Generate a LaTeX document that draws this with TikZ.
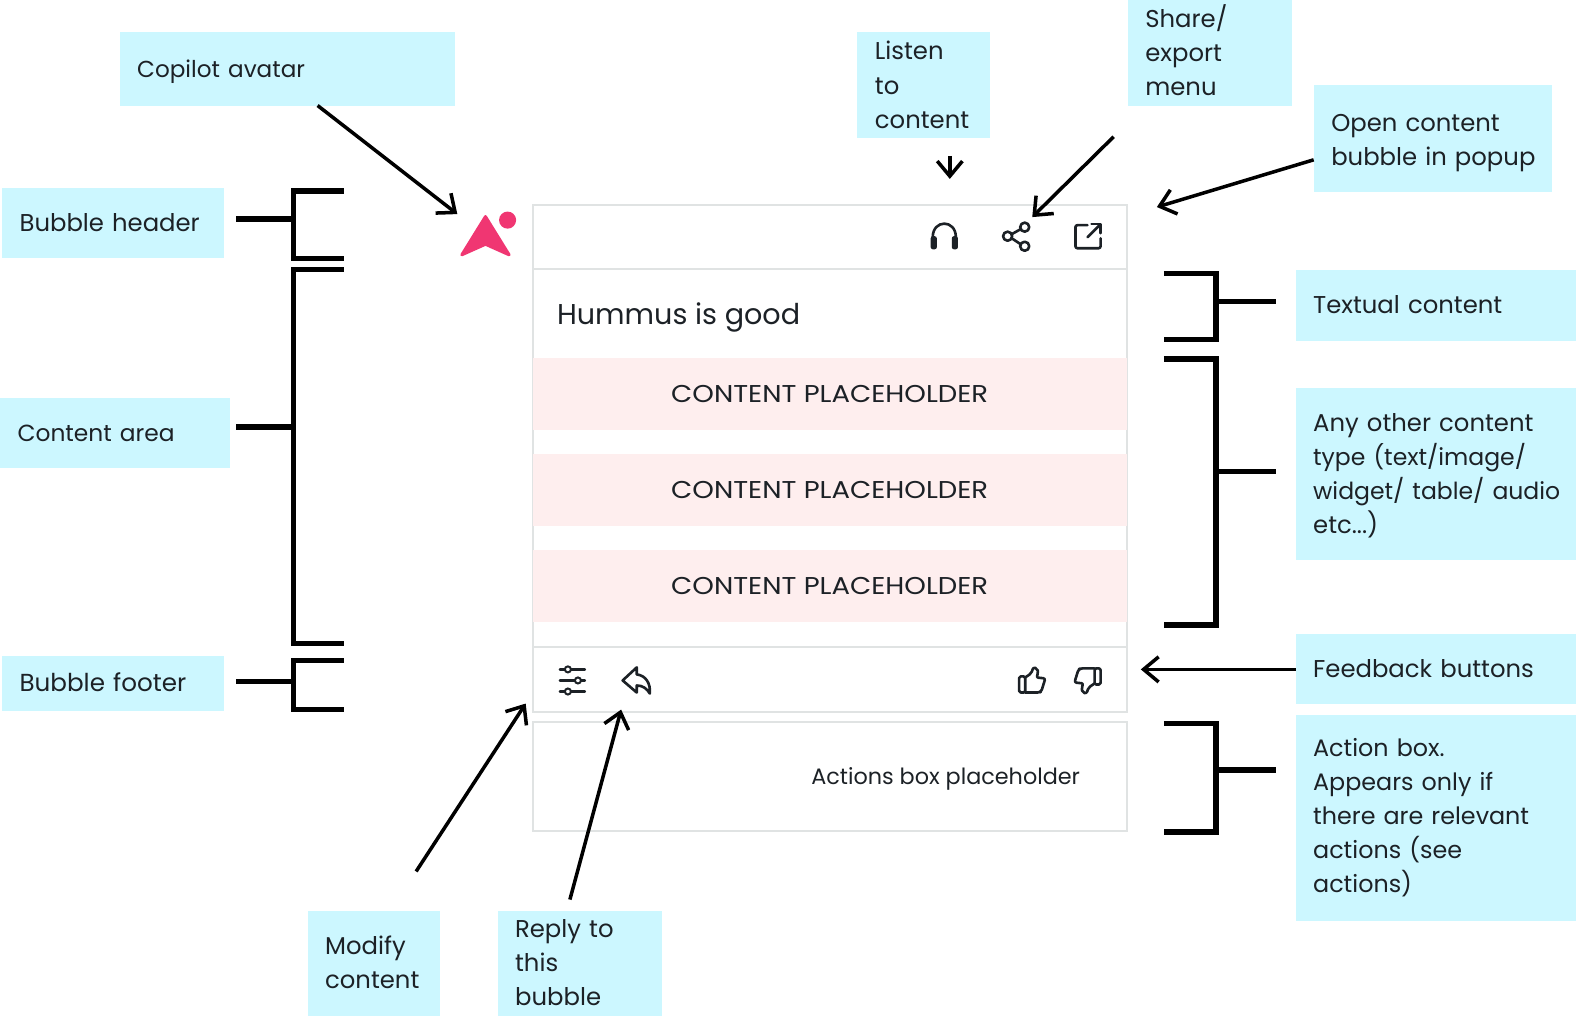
\documentclass[tikz,border=0pt]{standalone}
\usepackage{fontspec}
\setmainfont{Poppins}
\newfontfamily\capsfont[FakeStretch=1.13]{Poppins}
\usetikzlibrary{arrows.meta}
\definecolor{lab}{HTML}{CCF7FF}
\definecolor{pinkband}{HTML}{FEEEEE}
\definecolor{frameline}{HTML}{E0E3E3}
\definecolor{ink}{HTML}{1C2126}
\definecolor{brand}{HTML}{F03672}
\tikzset{
 box/.style={inner sep=0pt,align=left,text=ink,font=\fontsize{24.2}{34}\selectfont},
 frame/.style={draw=frameline,line width=2pt},
 band/.style={fill=pinkband,inner sep=0pt,text=ink,font=\capsfont\fontsize{24.2}{34}\selectfont},
 arr/.style={draw=black,line width=3.5pt,-{Straight Barb[length=15pt,width=25pt,line width=3.5pt]}},
 brk/.style={draw=black,line width=5.5pt,line cap=butt,line join=miter},
 icon/.style={draw=ink,line width=2.6pt,line cap=round,line join=round},
}
% \lab[vertical text shift]{name}{x1}{y1}{x2}{y2}{text}
\newcommand\lab[7][0]{%
 \pgfmathsetmacro\tw{#5-#3-34}%
 \pgfmathsetmacro\cx{(#3+#5)/2+0.5}\pgfmathsetmacro\cy{(#4+#6)/2+#1}%
 \fill[lab] (#3,#4) rectangle (#5,#6);
 \node[box,text width=\tw pt] (#2) at (\cx,\cy) {#7};}
\newcommand\tighter[1]{{\fontsize{23.4}{34}\selectfont\mbox{#1}}}
\begin{document}
\begin{tikzpicture}[x=1pt,y=-1pt]
\useasboundingbox (0,0) rectangle (1568,1011);
% bubble
\draw[frame] (530,204) rectangle (1121,708);
\draw[frame] (530,268) -- (1121,268);
\draw[frame] (530,644) -- (1121,644);
\node[draw=frameline,line width=2pt,minimum width=591pt,minimum height=109pt,inner sep=0pt] (actions) at (825.5,772.5) {};
\node[anchor=west,inner sep=0pt,text=ink,font=\fontsize{22.2}{26}\selectfont] (act) at (807,775) {Actions box placeholder};
\node[anchor=west,inner sep=0pt,text=ink,font=\fontsize{28.5}{34}\selectfont] (hum) at (554,316) {Hummus is good};
\node[band,minimum width=591pt,minimum height=72pt] (p1) at (825.5,392) {CONTENT PLACEHOLDER};
\node[band,minimum width=591pt,minimum height=71pt] (p2) at (825.5,487.5) {CONTENT PLACEHOLDER};
\node[band,minimum width=591pt,minimum height=72pt] (p3) at (825.5,583) {CONTENT PLACEHOLDER};
% labels
\lab[3]{avatar}{119}{32}{453}{105}{\fontsize{23}{34}\selectfont Copilot avatar}
\lab{listen}{853}{32}{985}{137}{Listen\\to\\content}
\lab[-2.5]{share}{1122}{0}{1285}{105}{Share/\\export\\menu}
\lab[4]{popup}{1307}{85}{1544}{191}{Open content\\\mbox{bubble in popup}}
\lab[-0.5]{header}{2}{187}{223}{257}{Bubble header}
\lab{area}{0}{396}{229}{466}{\fontsize{23.2}{34}\selectfont Content area}
\lab[-1]{footer}{2}{653}{223}{707}{\fontsize{24.5}{34}\selectfont Bubble footer}
\lab[-1]{textual}{1289}{269}{1568}{339}{Textual content}
\lab[2]{other}{1289}{386}{1568}{557}{Any other content\\\tighter{type (text/image/}\\\tighter{widget/ table/ audio}\\etc...)}
\lab{feedback}{1289}{631}{1568}{700}{Feedback buttons}
\lab{action}{1289}{711}{1568}{916}{\fontsize{23.7}{34}\selectfont Action box.\\Appears only if\\there are relevant\\actions (see\\actions)}
\lab[-1]{modify}{306}{906}{438}{1011}{Modify\\content}
\lab[-1]{reply}{495}{906}{659}{1011}{Reply to\\this\\bubble}
% arrow ends
\coordinate (a1s) at (316,105); \coordinate (a1e) at (455,213);
\coordinate (a2s) at (945,155); \coordinate (a2e) at (945,178);
\coordinate (a3s) at (1108,136); \coordinate (a3e) at (1027,216);
\coordinate (a4s) at (1307,159); \coordinate (a4e) at (1151,206);
\coordinate (a5s) at (1289,666); \coordinate (a5e) at (1135,666);
\coordinate (a6s) at (414,867); \coordinate (a6e) at (523,700);
\coordinate (a7s) at (567,895); \coordinate (a7e) at (618,706);
\draw[arr] (a1s) -- (a1e);
\draw[arr] (a2s) -- (a2e);
\draw[arr] (a3s) -- (a3e);
\draw[arr] (a4s) -- (a4e);
\draw[arr] (a5s) -- (a5e);
\draw[arr] (a6s) -- (a6e);
\draw[arr] (a7s) -- (a7e);
% brackets
\draw[brk] (342,190) -- (292,190) -- (292,257) -- (342,257);
\draw[brk] (235,218) -- (292,218);
\draw[brk] (342,268) -- (292,268) -- (292,640) -- (342,640);
\draw[brk] (235,425) -- (292,425);
\draw[brk] (342,657) -- (292,657) -- (292,706) -- (342,706);
\draw[brk] (235,678) -- (292,678);
\draw[brk] (1158,272) -- (1210,272) -- (1210,338) -- (1158,338);
\draw[brk] (1210,300) -- (1270,300);
\draw[brk] (1158,357) -- (1210,357) -- (1210,622) -- (1158,622);
\draw[brk] (1210,469) -- (1270,469);
\draw[brk] (1158,720) -- (1210,720) -- (1210,828) -- (1158,828);
\draw[brk] (1210,766) -- (1270,766);
% logo
\fill[brand,draw=brand,line width=3pt,line join=round] (483,215.5) -- (459.5,253.5) -- (483,243) -- (506.5,253.5) -- cycle;
\fill[brand] (505,219) circle (8.5);
% headphones
\draw[icon] (928,242) -- (928,236) .. controls (928,218) and (951,218) .. (951,236) -- (951,242);
\fill[ink,rounded corners=2pt] (926,235) rectangle (932,248);
\fill[ink,rounded corners=2pt] (947,235) rectangle (953,248);
% share
\draw[icon] (1019.5,226) circle (4.5);
\draw[icon] (1002.5,235) circle (4.5);
\draw[icon] (1019.5,245) circle (4.5);
\draw[icon] (1006.5,233) -- (1015.5,228);
\draw[icon] (1006.5,237) -- (1015.5,243);
% export
\draw[icon,rounded corners=2pt] (1082,224) -- (1070,224) -- (1070,247) -- (1095,247) -- (1095,237);
\draw[icon] (1082,236) -- (1094,224);
\draw[icon] (1086,223) -- (1095,223) -- (1095,232);
% sliders
\foreach \yy/\kx in {666/565,677/575,688/565}{
 \draw[icon,line width=2.2pt] (557,\yy) -- (582,\yy);
 \draw[ink,fill=white,line width=2pt] (\kx,\yy) circle (3);
}
% reply
\draw[icon] (619.5,677) -- (633.5,664) -- (633.5,671) .. controls (642.5,672) and (647.5,680) .. (646.5,690) .. controls (643.5,685) and (639.5,682) .. (633.5,682) -- (633.5,689) -- cycle;
% thumbs
\foreach \cx/\ang in {1027/0,1082/180}{
\begin{scope}[shift={(\cx,677)},rotate=\ang]
 \draw[icon,rounded corners=1.5pt] (-13,-4) rectangle (-7,12);
 \draw[icon,rounded corners=2pt] (-7,-3) -- (-1,-7) -- (1,-13) -- (5,-12) -- (6,-7) -- (4,-3) -- (13,-2) -- (9,11) -- (7,12) -- (-7,12);
\end{scope}}
\end{tikzpicture}
\end{document}
